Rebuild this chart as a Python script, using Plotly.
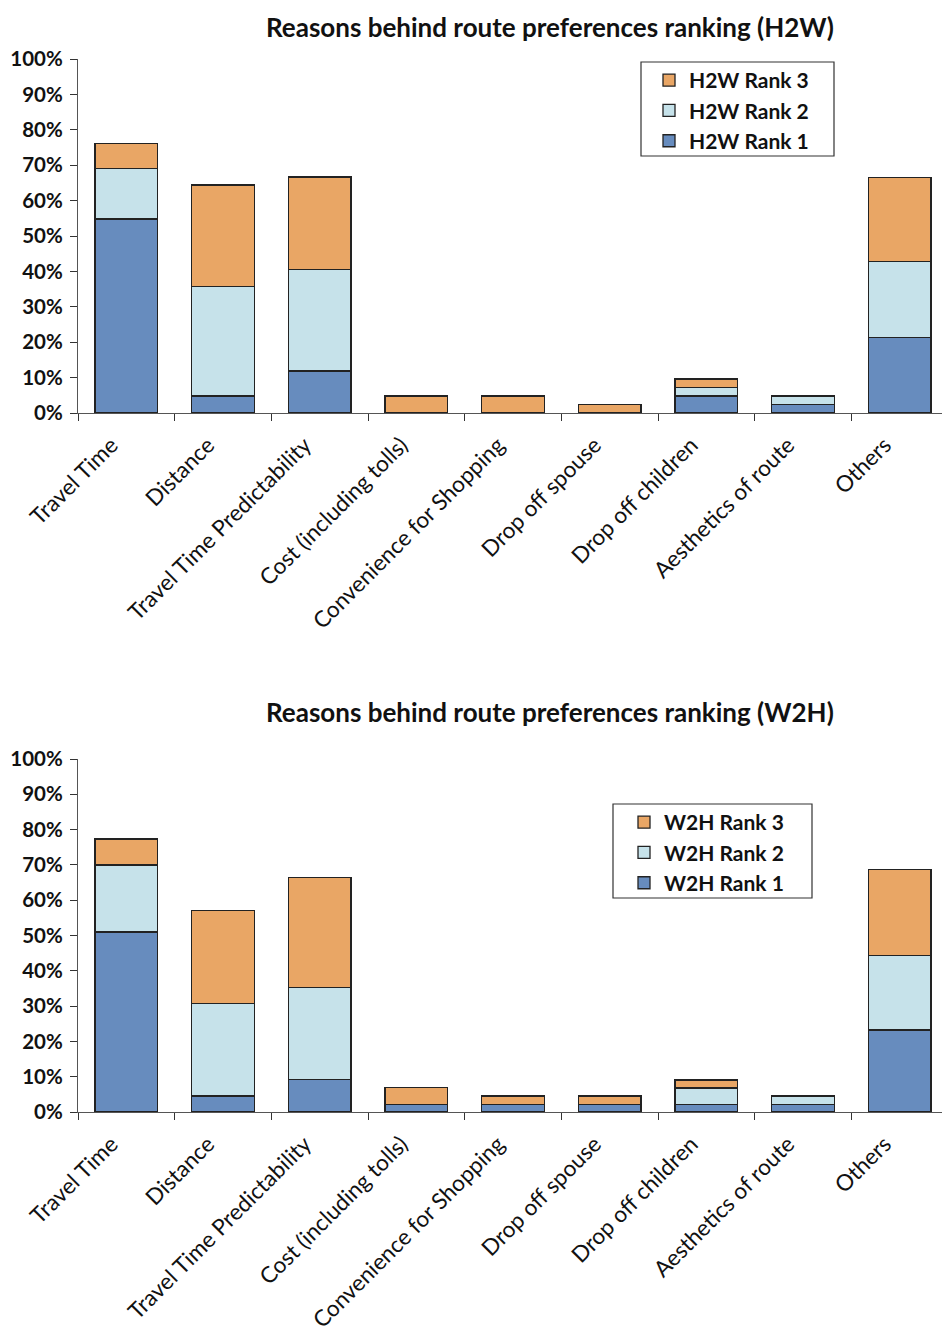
import plotly.graph_objects as go

categories = ["Travel Time", "Distance", "Travel Time Predictability", "Cost (including tolls)",
              "Convenience for Shopping", "Drop off spouse", "Drop off children",
              "Aesthetics of route", "Others"]

h2w_rank1 = [54.8, 4.8, 11.9, 0, 0, 0, 4.8, 2.4, 21.4]
h2w_rank2 = [14.3, 31.0, 28.6, 0, 0, 0, 2.4, 2.4, 21.4]
h2w_rank3 = [7.1, 28.6, 26.2, 4.8, 4.8, 2.4, 2.4, 0, 23.8]

w2h_rank1 = [51.0, 4.5, 9.2, 2.2, 2.2, 2.2, 2.2, 2.2, 23.2]
w2h_rank2 = [19.0, 26.2, 26.0, 0, 0, 0, 4.6, 2.3, 21.2]
w2h_rank3 = [7.3, 26.3, 31.3, 4.8, 2.3, 2.3, 2.3, 0, 24.2]

y_ticks = [0, 10, 20, 30, 40, 50, 60, 70, 80, 90, 100]
y_tick_labels = ["0%", "10%", "20%", "30%", "40%", "50%", "60%", "70%", "80%", "90%", "100%"]

C1 = "#678cbe"
C2 = "#c6e2ea"
C3 = "#e9a665"
EDGE = "#222222"
FONT = "Lato"

W, H = 950, 1342
OFF = 8          # page body margin
L = 78 - OFF     # left margin in figure px
PW = 870         # plot width

fig = go.Figure()

def add(vals, name, color, xa, ya, legend):
    fig.add_trace(go.Bar(x=categories, y=vals, name=name, xaxis=xa, yaxis=ya,
                         marker=dict(color=color, line=dict(color=EDGE, width=1.3)),
                         legend=legend))

add(h2w_rank1, "H2W Rank 1", C1, "x", "y", "legend")
add(h2w_rank2, "H2W Rank 2", C2, "x", "y", "legend")
add(h2w_rank3, "H2W Rank 3", C3, "x", "y", "legend")
add(w2h_rank1, "W2H Rank 1", C1, "x2", "y2", "legend2")
add(w2h_rank2, "W2H Rank 2", C2, "x2", "y2", "legend2")
add(w2h_rank3, "W2H Rank 3", C3, "x2", "y2", "legend2")

def px_x(page_x):
    return (page_x - OFF - L) / PW

def px_y(page_y):
    return 1 - (page_y - OFF) / H

def yd(top_px, bot_px):
    return [px_y(bot_px), px_y(top_px)]

xcommon = dict(type="category", showline=True, linecolor="#555555", linewidth=1.2,
               ticks="outside", tickson="boundaries", ticklen=7, tickcolor="#333333",
               tickangle=-45, tickfont=dict(family=FONT, size=22.5, color="#111111"),
               ticklabelstandoff=9, ticklabelshift=-15,
               showgrid=False, zeroline=False, domain=[0, 1], automargin=False)
ycommon = dict(range=[0, 100], tickmode="array", tickvals=y_ticks, ticktext=y_tick_labels,
               showline=True, linecolor="#555555", linewidth=1.2, ticks="outside", ticklen=7,
               tickcolor="#333333", showgrid=False, zeroline=False, automargin=False,
               ticklabelstandoff=3,
               tickfont=dict(family=FONT, size=20.5, color="#111111", weight="bold"))

legcommon = dict(traceorder="reversed", bgcolor="rgba(0,0,0,0)", borderwidth=0,
                 font=dict(family=FONT, size=21, color="#111111", weight="bold"),
                 xanchor="left", yanchor="top", itemwidth=30, tracegroupgap=0)

title_font = dict(family=FONT, size=26, color="#111111", weight="bold")

fig.update_layout(
    width=W, height=H, barmode="stack", bargap=0.35,
    plot_bgcolor="white", paper_bgcolor="white",
    margin=dict(l=L, r=W - L - PW, t=0, b=0, autoexpand=False),
    xaxis=dict(**xcommon, anchor="y"),
    yaxis=dict(**ycommon, domain=yd(59, 413), anchor="x"),
    xaxis2=dict(**xcommon, anchor="y2"),
    yaxis2=dict(**ycommon, domain=yd(759, 1112), anchor="x2"),
    legend=dict(**legcommon, x=px_x(649), y=px_y(60)),
    legend2=dict(**legcommon, x=px_x(624), y=px_y(802)),
    shapes=[
        dict(type="rect", xref="paper", yref="paper", x0=px_x(641), x1=px_x(834),
             y0=px_y(156), y1=px_y(62), line=dict(color="#333333", width=1.2), layer="below"),
        dict(type="rect", xref="paper", yref="paper", x0=px_x(613), x1=px_x(812),
             y0=px_y(898), y1=px_y(804), line=dict(color="#333333", width=1.2), layer="below"),
    ],
    annotations=[
        dict(text="Reasons behind route preferences ranking (H2W)", xref="paper", yref="paper",
             x=px_x(549.5), y=px_y(9), xanchor="center", yanchor="top", showarrow=False,
             font=title_font),
        dict(text="Reasons behind route preferences ranking (W2H)", xref="paper", yref="paper",
             x=px_x(549.5), y=px_y(712), xanchor="center", yanchor="middle", showarrow=False,
             font=title_font),
    ],
)

fig.write_html("out.html")
